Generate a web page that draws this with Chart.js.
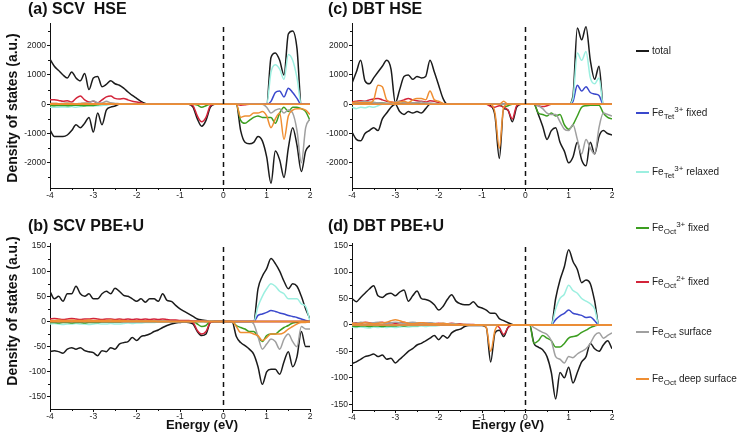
<!DOCTYPE html>
<html>
<head>
<meta charset="utf-8">
<title>Density of states</title>
<script src="https://cdn.jsdelivr.net/npm/chart.js"></script>
<style>
  body { margin: 0; background: #fff; }
  #fig { position: relative; width: 742px; height: 443px; overflow: hidden; font-family: 'Liberation Sans', Arial, sans-serif; color: #111; }
  #fig canvas { position: absolute; }
  .ptitle { position: absolute; font-weight: bold; font-size: 16px; line-height: 18px; white-space: nowrap; }
  .xtitle { position: absolute; width: 100px; text-align: center; font-weight: bold; font-size: 13px; line-height: 16px; white-space: nowrap; }
  .ytitle { position: absolute; width: 200px; text-align: center; font-weight: bold; font-size: 14px; line-height: 16px; transform: rotate(-90deg); white-space: nowrap; }
  .sw { position: absolute; left: 636px; width: 13px; height: 2px; }
  .lt { position: absolute; left: 652px; font-size: 10px; line-height: 12px; white-space: nowrap; color: #222; }
  .lt sub, .lt sup { font-size: 8px; line-height: 0; }
  .lt sub { vertical-align: -3px; }
  .lt sup { vertical-align: 4px; }
  #err { position: absolute; left: 0; top: 0; color: red; font-size: 10px; }
</style>
</head>
<body>
<div id="fig">
  <canvas id="pa" width="320" height="210" style="left:0;top:0"></canvas>
  <canvas id="pc" width="320" height="210" style="left:302px;top:0"></canvas>
  <canvas id="pb" width="320" height="215" style="left:0;top:215px"></canvas>
  <canvas id="pd" width="320" height="215" style="left:302px;top:215px"></canvas>

  <div class="ptitle" style="left:28px;top:0">(a) SCV&nbsp; HSE</div>
  <div class="ptitle" style="left:28px;top:217px">(b) SCV PBE+U</div>
  <div class="ptitle" style="left:328px;top:0">(c) DBT HSE</div>
  <div class="ptitle" style="left:328px;top:217px">(d) DBT PBE+U</div>

  <div class="ytitle" style="left:-88px;top:100px">Density of states (a.u.)</div>
  <div class="ytitle" style="left:-88px;top:303px">Density of states (a.u.)</div>
  <div class="xtitle" style="left:152px;top:417px">Energy (eV)</div>
  <div class="xtitle" style="left:458px;top:417px">Energy (eV)</div>

  <div class="sw" style="top:50px;background:#1b1b1b"></div>
  <div class="lt" style="top:45px">total</div>
  <div class="sw" style="top:112px;background:#3a48cc"></div>
  <div class="lt" style="top:107px">Fe<sub>Tet</sub><sup>3+</sup> fixed</div>
  <div class="sw" style="top:171px;background:#9cefe0"></div>
  <div class="lt" style="top:166px">Fe<sub>Tet</sub><sup>3+</sup> relaxed</div>
  <div class="sw" style="top:227px;background:#3c9e20"></div>
  <div class="lt" style="top:222px">Fe<sub>Oct</sub><sup>3+</sup> fixed</div>
  <div class="sw" style="top:281px;background:#d3243a"></div>
  <div class="lt" style="top:276px">Fe<sub>Oct</sub><sup>2+</sup> fixed</div>
  <div class="sw" style="top:331px;background:#a0a0a0"></div>
  <div class="lt" style="top:326px">Fe<sub>Oct</sub> surface</div>
  <div class="sw" style="top:378px;background:#ef8e32"></div>
  <div class="lt" style="top:373px">Fe<sub>Oct</sub> deep surface</div>
  <div id="err"></div>
</div>
<script>
// Projected density of states, spin up (positive) and spin down (negative)

const energy = [
  -4, -3.9, -3.8, -3.7, -3.6, -3.5, -3.4, -3.3, -3.2, -3.1,
  -3, -2.9, -2.8, -2.7, -2.6, -2.5, -2.4, -2.3, -2.2, -2.1,
  -2, -1.9, -1.8, -1.7, -1.6, -1.5, -1.4, -1.3, -1.2, -1.1,
  -1, -0.9, -0.8, -0.7, -0.6, -0.5, -0.4, -0.3, -0.2, -0.1,
  0, 0.1, 0.2, 0.3, 0.4, 0.5, 0.6, 0.7, 0.8, 0.9,
  1, 1.1, 1.2, 1.3, 1.4, 1.5, 1.6, 1.7, 1.8, 1.9,
  2
];
const xTicks = [-4, -3, -2, -1, 0, 1, 2];
const xMinorTicks = [-3.5, -2.5, -1.5, -0.5, 0.5, 1.5];
const hseTicks = [-2000, -1000, 0, 1000, 2000];
const hseMinorTicks = [-2500, -1500, -500, 500, 1500, 2500];
const pbeTicks = [-150, -100, -50, 0, 50, 100, 150];
const pbeMinorTicks = [-125, -75, -25, 25, 75, 125];

// series order: total, FeTet3+ fixed, FeTet3+ relaxed, FeOct3+ fixed, FeOct2+ fixed, FeOct surface, FeOct deep surface
const seriesColors = ['#1b1b1b', '#3a48cc', '#9cefe0', '#3c9e20', '#d3243a', '#a0a0a0', '#ef8e32'];

// (a) SCV HSE
const aTotalUp = [
  1540, 1300, 1150, 1000, 900, 1100, 900, 800, 1050, 500,
  900, 950, 600, 680, 800, 700, 650, 550, 420, 300,
  200, 100, 30, 0, 0, 0, 0, 0, 0, 0,
  0, 0, 0, 0, 0, 0, 0, 0, 0, 0,
  0, 0, 0, 0, 0, 0, 0, 0, 0, 0,
  0, 1600, 1750, 1500, 1000, 2400, 2500, 1900, 0, 0,
  0];
const aTotalDown = [
  -880, -1100, -1100, -1100, -1050, -900, -700, -800, -650, -450,
  -950, -300, -700, -200, -100, -60, 0, 0, 0, 0,
  0, 0, 0, 0, 0, 0, 0, 0, 0, 0,
  0, 0, 0, -100, -500, -750, -550, -100, 0, 0,
  0, 0, 0, 0, -900, -1300, -1350, -1300, -1100, -1250,
  -1800, -2700, -1600, -1900, -2500, -1500, -800, -1400, -2300, -1600,
  -1400];
const aTetFixedUp = [
  0, 0, 0, 0, 0, 0, 0, 0, 0, 0,
  0, 0, 0, 0, 0, 0, 0, 0, 0, 0,
  0, 0, 0, 0, 0, 0, 0, 0, 0, 0,
  0, 0, 0, 0, 0, 0, 0, 0, 0, 0,
  0, 0, 0, 0, 0, 0, 0, 0, 0, 0,
  0, 100, 400, 450, 250, 550, 400, 200, 0, 0,
  0];
const aTetRelaxedUp = [
  0, 0, 0, 0, 0, 0, 0, 0, 0, 0,
  0, 0, 0, 0, 0, 0, 0, 0, 0, 0,
  0, 0, 0, 0, 0, 0, 0, 0, 0, 0,
  0, 0, 0, 0, 0, 0, 0, 0, 0, 0,
  0, 0, 0, 0, 0, 0, 0, 0, 0, 0,
  0, 1100, 1350, 1200, 850, 1700, 1500, 900, 0, 0,
  0];
const aTetRelaxedDown = [
  -100, -100, -100, -90, -100, -80, -100, -80, -60, -50,
  -60, -50, -40, -30, 0, 0, 0, 0, 0, 0,
  0, 0, 0, 0, 0, 0, 0, 0, 0, 0,
  0, 0, 0, 0, 0, 0, 0, 0, 0, 0,
  0, 0, 0, 0, 0, 0, 0, 0, 0, 0,
  0, 0, 0, 0, 0, 0, 0, 0, 0, 0,
  0];
const aOct3FixedDown = [
  -40, -50, -40, -40, -50, -40, -30, -40, -50, -40,
  -40, -20, 0, 0, 0, 0, 0, 0, 0, 0,
  0, 0, 0, 0, 0, 0, 0, 0, 0, 0,
  0, 0, 0, 0, -30, -100, -50, 0, 0, 0,
  0, 0, 0, 0, -550, -650, -550, -450, -400, -450,
  -450, -450, -650, -300, -100, -250, -100, -100, -150, -250,
  -550];
const aOct2FixedUp = [
  150, 150, 130, 100, 120, 80, 200, 280, 150, 80,
  100, 50, 150, 250, 280, 200, 180, 200, 150, 100,
  80, 50, 0, 0, 0, 0, 0, 0, 0, 0,
  0, 0, 0, 0, 0, 0, 0, 0, 0, 0,
  0, 0, 0, 0, 0, 0, 0, 0, 0, 0,
  0, 0, 0, 0, 0, 0, 0, 0, 0, 0,
  0];
const aOct2FixedDown = [
  0, 0, 0, 0, 0, 0, 0, 0, 0, 0,
  0, 0, 0, 0, 0, 0, 0, 0, 0, 0,
  0, 0, 0, 0, 0, 0, 0, 0, 0, 0,
  0, 0, 0, -50, -400, -600, -450, -50, 0, 0,
  0, 0, 0, 0, -30, -20, 0, 0, 0, 0,
  0, 0, 0, 0, 0, 0, 0, 0, 0, 0,
  0];
const aSurfaceUp = [
  20, 30, 20, 30, 40, 30, 20, 30, 40, 50,
  120, 50, 40, 100, 50, 30, 20, 10, 0, 0,
  0, 0, 0, 0, 0, 0, 0, 0, 0, 0,
  0, 0, 0, 0, 0, 0, 0, 0, 0, 0,
  0, 0, 0, 0, 0, 0, 0, 0, 0, 0,
  0, 0, 0, 0, 0, 0, 0, 0, 0, 0,
  0];
const aSurfaceDown = [
  0, 0, 0, 0, 0, 0, 0, 0, 0, 0,
  0, 0, 0, 0, 0, 0, 0, 0, 0, 0,
  0, 0, 0, 0, 0, 0, 0, 0, 0, 0,
  0, 0, 0, 0, 0, 0, 0, 0, 0, 0,
  0, 0, 0, 0, 0, 0, 0, 0, 0, 0,
  -100, -300, -200, -150, -300, -200, -300, -900, -2000, -800,
  -500];
const aDeepUp = [
  20, 30, 20, 20, 30, 20, 10, 20, 30, 20,
  20, 10, 20, 30, 20, 10, 10, 0, 0, 0,
  0, 0, 0, 0, 0, 0, 0, 0, 0, 0,
  0, 0, 0, 0, 0, 0, 0, 0, 0, 0,
  0, 0, 0, 0, 0, 0, 0, 0, 0, 0,
  0, 0, 0, 0, 0, 0, 0, 0, 0, 0,
  0];
const aDeepDown = [
  0, 0, 0, 0, 0, 0, 0, 0, 0, 0,
  0, 0, 0, 0, 0, 0, 0, 0, 0, 0,
  0, 0, 0, 0, 0, 0, 0, 0, 0, 0,
  0, 0, 0, 0, 0, 0, 0, 0, 0, 0,
  0, 0, 0, 0, -450, -400, -400, -300, -300, -250,
  -400, -800, -500, -300, -1200, -400, -200, -150, -150, -200,
  -350];

// (c) DBT HSE
const cTotalUp = [
  720, 1100, 1500, 800, 700, 900, 1100, 1300, 1500, 1200,
  50, 500, 950, 1000, 850, 950, 900, 950, 1500, 1100,
  650, 200, 0, 0, 0, 0, 0, 0, 0, 0,
  0, 0, 0, 0, 0, 0, 0, 0, 0, 0,
  0, 0, 0, 0, 0, 0, 0, 0, 0, 0,
  0, 300, 2600, 2200, 2650, 1500, 850, 1300, 0, 0,
  0];
const cTotalDown = [
  -950, -1200, -1250, -1000, -900, -800, -900, -500, -300, -100,
  0, -250, -350, -250, -300, -250, -300, -150, 0, 0,
  0, 0, 0, 0, 0, 0, 0, 0, 0, 0,
  0, 0, -50, -400, -1850, -150, -200, -600, -100, 0,
  0, 0, 0, -350, -750, -1200, -900, -800, -1300, -1600,
  -2000, -1800, -1300, -1900, -2100, -1300, -1700, -1100, -900, -1000,
  -1050];
const cTetFixedUp = [
  0, 0, 0, 0, 0, 0, 0, 0, 0, 0,
  0, 0, 0, 0, 0, 0, 0, 0, 0, 0,
  0, 0, 0, 0, 0, 0, 0, 0, 0, 0,
  0, 0, 0, 0, 0, 0, 0, 0, 0, 0,
  0, 0, 0, 0, 0, 0, 0, 0, 0, 0,
  0, 100, 650, 450, 600, 400, 350, 300, 0, 0,
  0];
const cTetRelaxedUp = [
  0, 0, 0, 0, 0, 0, 0, 0, 0, 0,
  0, 0, 0, 0, 0, 0, 0, 0, 0, 0,
  0, 0, 0, 0, 0, 0, 0, 0, 0, 0,
  0, 0, 0, 0, 0, 0, 0, 0, 0, 0,
  0, 0, 0, 0, 0, 0, 0, 0, 0, 0,
  0, 200, 1750, 1500, 1800, 900, 700, 900, 0, 0,
  0];
const cTetRelaxedDown = [
  -100, -150, -100, -120, -80, -100, -50, 0, 0, 0,
  0, 0, 0, 0, 0, 0, 0, 0, 0, 0,
  0, 0, 0, 0, 0, 0, 0, 0, 0, 0,
  0, 0, 0, 0, 0, 0, 0, 0, 0, 0,
  0, 0, 0, 0, 0, 0, 0, 0, 0, 0,
  0, 0, 0, 0, 0, 0, 0, 0, 0, 0,
  0];
const cOct3FixedUp = [
  30, 60, 50, 40, 50, 60, 50, 40, 30, 20,
  10, 30, 40, 50, 40, 30, 0, 0, 0, 0,
  0, 0, 0, 0, 0, 0, 0, 0, 0, 0,
  0, 0, 0, 0, 0, 0, 0, 0, 0, 0,
  0, 0, 0, 0, 0, 0, 0, 0, 0, 0,
  0, 0, 0, 0, 0, 0, 0, 0, 0, 0,
  0];
const cOct3FixedDown = [
  0, 0, 0, 0, 0, 0, 0, 0, 0, 0,
  0, 0, 0, 0, 0, 0, 0, 0, 0, 0,
  0, 0, 0, 0, 0, 0, 0, 0, 0, 0,
  0, 0, 0, 0, 0, -100, -50, 0, 0, 0,
  0, 0, 0, -300, -350, -400, -300, -400, -350, -700,
  -850, -700, -400, -100, -50, -30, -30, -30, -300, -450,
  -500];
const cOct2FixedUp = [
  80, 100, 120, 100, 150, 180, 200, 150, 100, 80,
  50, 100, 150, 200, 150, 120, 100, 80, 120, 100,
  50, 20, 0, 0, 0, 0, 0, 0, 0, 0,
  0, 0, 0, 0, 0, 0, 0, 0, 0, 0,
  0, 0, 0, 0, 0, 0, 0, 0, 0, 0,
  0, 0, 0, 0, 0, 0, 0, 0, 0, 0,
  0];
const cOct2FixedDown = [
  0, 0, 0, 0, 0, 0, 0, 0, 0, 0,
  0, 0, 0, 0, 0, 0, 0, 0, 0, 0,
  0, 0, 0, 0, 0, 0, 0, 0, 0, 0,
  0, 0, -80, -100, -50, -100, -200, -500, -50, 0,
  0, 0, 0, -50, -80, -50, 0, 0, 0, 0,
  0, 0, 0, 0, 0, 0, 0, 0, 0, 0,
  0];
const cSurfaceUp = [
  50, 60, 80, 100, 80, 60, 50, 40, 30, 20,
  80, 100, 60, 50, 50, 60, 80, 50, 40, 30,
  20, 0, 0, 0, 0, 0, 0, 0, 0, 0,
  0, 0, 0, 0, 0, 0, 0, 0, 0, 0,
  0, 0, 0, 0, 0, 0, 0, 0, 0, 0,
  0, 0, 0, 0, 0, 0, 0, 0, 0, 0,
  0];
const cSurfaceDown = [
  0, 0, 0, 0, 0, 0, 0, 0, 0, 0,
  0, 0, 0, 0, 0, 0, 0, 0, 0, 0,
  0, 0, 0, 0, 0, 0, 0, 0, 0, 0,
  0, 0, 0, 0, 0, 0, 0, 0, 0, 0,
  0, 0, 0, -50, -150, -300, -350, -350, -600, -850,
  -900, -700, -1200, -1700, -1200, -1500, -1700, -800, -300, -350,
  -400];
const cDeepUp = [
  50, 80, 50, 50, 50, 150, 650, 600, 150, 80,
  50, 80, 100, 60, 150, 200, 200, 150, 450, 150,
  100, 30, 0, 0, 0, 0, 0, 0, 0, 0,
  0, 0, 0, 0, 0, 100, 0, 0, 0, 0,
  0, 0, 0, 0, 0, 0, 0, 0, 0, 0,
  0, 0, 0, 0, 0, 0, 0, 0, 0, 0,
  0];
const cDeepDown = [
  0, 0, 0, 0, 0, 0, 0, 0, 0, 0,
  0, 0, 0, 0, 0, 0, 0, 0, 0, 0,
  0, 0, 0, 0, 0, 0, 0, 0, 0, 0,
  0, 0, 0, -300, -1500, -100, 0, 0, 0, 0,
  0, 0, 0, 0, 0, 0, 0, 0, 0, 0,
  0, 0, 0, 0, 0, 0, 0, 0, 0, 0,
  0];

// (b) SCV PBE+U
const bTotalUp = [
  60, 45, 50, 40, 55, 55, 70, 55, 50, 55,
  45, 45, 55, 60, 55, 66, 60, 52, 50, 45,
  40, 45, 38, 45, 45, 40, 55, 42, 40, 32,
  25, 20, 15, 10, 5, 3, 2, 0, 0, 0,
  0, 0, 0, 0, 0, 0, 0, 0, 65, 90,
  105, 125, 115, 100, 80, 65, 75, 70, 50, 25,
  5];
const bTotalDown = [
  -60, -58, -60, -63, -55, -52, -55, -52, -58, -60,
  -62, -68, -58, -60, -52, -55, -45, -42, -40, -32,
  -38, -30, -28, -25, -20, -17, -12, -8, -5, -3,
  -2, -1, -2, -5, -20, -28, -25, -2, 0, 0,
  0, 0, 0, -30, -42, -48, -55, -65, -90, -125,
  -100, -95, -95, -105, -80, -60, -90, -70, -20, -50,
  -50];
const bTetFixedUp = [
  0, 0, 0, 0, 0, 0, 0, 0, 0, 0,
  0, 0, 0, 0, 0, 0, 0, 0, 0, 0,
  0, 0, 0, 0, 0, 0, 0, 0, 0, 0,
  0, 0, 0, 0, 0, 0, 0, 0, 0, 0,
  0, 0, 0, 0, 0, 0, 0, 0, 12, 15,
  18, 22, 20, 17, 15, 12, 10, 8, 5, 2,
  0];
const bTetRelaxedUp = [
  0, 0, 0, 0, 0, 0, 0, 0, 0, 0,
  0, 0, 0, 0, 0, 0, 0, 0, 0, 0,
  0, 0, 0, 0, 0, 0, 0, 0, 0, 0,
  0, 0, 0, 0, 0, 0, 0, 0, 0, 0,
  0, 0, 0, 0, 0, 0, 0, 0, 30, 50,
  65, 75, 70, 60, 55, 45, 45, 45, 35, 30,
  0];
const bTetRelaxedDown = [
  -5, -4, -5, -6, -5, -5, -4, -5, -5, -6,
  -5, -4, -5, -5, -4, -5, -5, -4, -3, -4,
  -3, -3, -2, -2, -2, -1, -1, -1, 0, 0,
  0, 0, 0, 0, 0, 0, 0, 0, 0, 0,
  0, 0, 0, 0, 0, 0, 0, 0, 0, 0,
  0, 0, 0, 0, 0, 0, 0, 0, 0, 0,
  0];
const bOct3FixedDown = [
  -2, -2, -3, -2, -2, -3, -2, -2, -3, -2,
  -2, -2, -1, -1, -1, -1, -1, 0, 0, 0,
  0, 0, 0, 0, 0, 0, 0, 0, 0, 0,
  0, 0, 0, 0, -5, -10, -8, 0, 0, 0,
  0, 0, 0, -8, -12, -15, -20, -20, -30, -40,
  -28, -25, -25, -18, -12, -8, -3, -2, 0, 0,
  0];
const bOct2FixedUp = [
  5, 6, 5, 4, 5, 6, 5, 4, 5, 5,
  6, 5, 4, 5, 5, 4, 5, 4, 5, 4,
  5, 4, 5, 4, 5, 4, 5, 4, 3, 3,
  2, 2, 2, 1, 1, 1, 0, 0, 0, 0,
  0, 0, 0, 0, 0, 0, 0, 0, 0, 0,
  0, 0, 0, 0, 0, 0, 0, 0, 0, 0,
  0];
const bOct2FixedDown = [
  0, 0, 0, 0, 0, 0, 0, 0, 0, 0,
  0, 0, 0, 0, 0, 0, 0, 0, 0, 0,
  0, 0, 0, 0, 0, 0, 0, 0, 0, 0,
  0, 0, 0, -2, -18, -25, -20, -2, 0, 0,
  0, 0, 0, 0, 0, 0, 0, 0, 0, 0,
  0, 0, 0, 0, 0, 0, 0, 0, 0, 0,
  0];
const bSurfaceDown = [
  0, 0, 0, 0, 0, 0, 0, 0, 0, 0,
  0, 0, 0, 0, 0, 0, 0, 0, 0, 0,
  0, 0, 0, 0, 0, 0, 0, 0, 0, 0,
  0, 0, 0, 0, 0, 0, 0, 0, 0, 0,
  0, 0, 0, 0, 0, 0, 0, -5, -30, -55,
  -45, -35, -40, -55, -35, -25, -40, -50, -10, -15,
  -15];
const bDeepUp = [
  2, 2, 3, 2, 2, 3, 2, 2, 2, 3,
  2, 2, 2, 2, 3, 2, 2, 2, 1, 1,
  1, 1, 1, 1, 1, 0, 0, 0, 0, 0,
  0, 0, 0, 0, 0, 0, 0, 0, 0, 0,
  0, 0, 0, 0, 0, 0, 0, 0, 0, 0,
  0, 0, 0, 0, 0, 0, 0, 0, 0, 0,
  0];
const bDeepDown = [
  0, 0, 0, 0, 0, 0, 0, 0, 0, 0,
  0, 0, 0, 0, 0, 0, 0, 0, 0, 0,
  0, 0, 0, 0, 0, 0, 0, 0, 0, 0,
  0, 0, 0, 0, 0, 0, 0, 0, 0, 0,
  0, 0, 0, -10, -22, -22, -22, -25, -28, -38,
  -32, -25, -25, -25, -22, -15, -10, -5, -2, -2,
  0];

// (d) DBT PBE+U
const dTotalUp = [
  50, 44, 52, 60, 68, 74, 55, 52, 58, 60,
  55, 62, 66, 45, 55, 64, 50, 48, 45, 38,
  28, 35, 48, 57, 45, 40, 38, 38, 44, 35,
  32, 28, 22, 22, 12, 8, 4, 1, 0, 0,
  0, 0, 0, 0, 0, 0, 0, 50, 85, 110,
  142, 120, 105, 80, 85, 78, 45, 0, 0, 0,
  0];
const dTotalDown = [
  -73, -70, -65, -60, -58, -55, -60, -57, -65, -63,
  -72, -65, -58, -50, -45, -38, -35, -30, -25, -20,
  -28, -20, -25, -15, -10, -8, -3, -1, -1, -1,
  -1, -5, -70, -15, -10, -22, -5, 0, 0, 0,
  0, 0, -35, -42, -47, -60, -90, -140, -90, -100,
  -80, -110, -90, -70, -60, -35, -45, -50, -38, -30,
  -45];
const dTetFixedUp = [
  0, 0, 0, 0, 0, 0, 0, 0, 0, 0,
  0, 0, 0, 0, 0, 0, 0, 0, 0, 0,
  0, 0, 0, 0, 0, 0, 0, 0, 0, 0,
  0, 0, 0, 0, 0, 0, 0, 0, 0, 0,
  0, 0, 0, 0, 0, 0, 0, 10, 17, 22,
  28, 22, 20, 18, 14, 15, 8, 0, 0, 0,
  0];
const dTetRelaxedUp = [
  0, 0, 0, 0, 0, 0, 0, 0, 0, 0,
  0, 0, 0, 0, 0, 0, 0, 0, 0, 0,
  0, 0, 0, 0, 0, 0, 0, 0, 0, 0,
  0, 0, 0, 0, 0, 0, 0, 0, 0, 0,
  0, 0, 0, 0, 0, 0, 0, 30, 50, 58,
  75, 65, 60, 50, 45, 40, 30, 0, 0, 0,
  0];
const dTetRelaxedDown = [
  -4, -5, -4, -5, -6, -4, -5, -4, -5, -4,
  -5, -4, -3, -4, -3, -3, -2, -3, -2, -2,
  -1, 0, 0, 0, 0, 0, 0, 0, 0, 0,
  0, 0, 0, 0, 0, 0, 0, 0, 0, 0,
  0, 0, 0, 0, 0, 0, 0, 0, 0, 0,
  0, 0, 0, 0, 0, 0, 0, 0, 0, 0,
  0];
const dOct3FixedDown = [
  -2, -3, -2, -2, -3, -2, -2, -3, -2, -2,
  -2, -1, -2, -1, -1, -1, 0, 0, 0, 0,
  0, 0, 0, 0, 0, 0, 0, 0, 0, 0,
  0, 0, 0, 0, 0, 0, 0, 0, 0, 0,
  0, 0, -35, -30, -20, -25, -30, -42, -42, -35,
  -25, -22, -20, -14, -10, -5, -2, 0, 0, 0,
  0];
const dOct2FixedUp = [
  3, 4, 3, 5, 4, 3, 4, 5, 3, 4,
  3, 4, 5, 3, 4, 3, 4, 3, 3, 2,
  3, 2, 2, 3, 2, 2, 1, 1, 1, 0,
  0, 0, 0, 0, 0, 0, 0, 0, 0, 0,
  0, 0, 0, 0, 0, 0, 0, 0, 0, 0,
  0, 0, 0, 0, 0, 0, 0, 0, 0, 0,
  0];
const dOct2FixedDown = [
  0, 0, 0, 0, 0, 0, 0, 0, 0, 0,
  0, 0, 0, 0, 0, 0, 0, 0, 0, 0,
  0, 0, 0, 0, 0, 0, 0, 0, 0, 0,
  0, 0, 0, 0, -5, -18, -5, 0, 0, 0,
  0, 0, 0, 0, 0, 0, 0, 0, 0, 0,
  0, 0, 0, 0, 0, 0, 0, 0, 0, 0,
  0];
const dSurfaceUp = [
  4, 3, 5, 4, 3, 4, 5, 4, 3, 4,
  5, 4, 3, 4, 5, 4, 3, 3, 4, 3,
  2, 3, 2, 2, 2, 1, 1, 1, 0, 0,
  0, 0, 0, 0, 0, 0, 0, 0, 0, 0,
  0, 0, 0, 0, 0, 0, 0, 0, 0, 0,
  0, 0, 0, 0, 0, 0, 0, 0, 0, 0,
  0];
const dSurfaceDown = [
  0, 0, 0, 0, 0, 0, 0, 0, 0, 0,
  0, 0, 0, 0, 0, 0, 0, 0, 0, 0,
  0, 0, 0, 0, 0, 0, 0, 0, 0, 0,
  0, 0, 0, 0, 0, 0, 0, 0, 0, 0,
  0, 0, -5, -10, -14, -18, -30, -60, -65, -72,
  -60, -62, -55, -50, -45, -35, -20, -15, -25, -20,
  -15];
const dDeepUp = [
  3, 2, 3, 4, 3, 2, 3, 4, 5, 8,
  10, 8, 5, 3, 2, 3, 4, 3, 2, 2,
  2, 3, 2, 1, 1, 1, 1, 0, 0, 0,
  0, 0, 0, 0, 0, 0, 0, 0, 0, 0,
  0, 0, 0, 0, 0, 0, 0, 0, 0, 0,
  0, 0, 0, 0, 0, 0, 0, 0, 0, 0,
  0];
const dDeepDown = [
  0, 0, 0, 0, 0, 0, 0, 0, 0, 0,
  0, 0, 0, 0, 0, 0, 0, 0, 0, 0,
  0, 0, 0, 0, 0, 0, 0, 0, 0, 0,
  0, -5, -50, -10, 0, 0, 0, 0, 0, 0,
  0, 0, 0, 0, 0, 0, 0, 0, 0, 0,
  0, 0, 0, 0, 0, 0, 0, 0, 0, 0,
  0];

const FONT = "'Liberation Sans', Arial, sans-serif";

// dashed line at the Fermi level
const zeroLine = {
  id: 'zeroLine',
  afterDatasetsDraw(chart) {
    const { ctx, chartArea, scales } = chart;
    const x = Math.round(scales.x.getPixelForValue(0)) + 0.5;
    ctx.save();
    ctx.strokeStyle = '#111';
    ctx.lineWidth = 1.5;
    ctx.setLineDash([5, 4]);
    ctx.beginPath();
    ctx.moveTo(x, chartArea.top + 4);
    ctx.lineTo(x, chartArea.bottom);
    ctx.stroke();
    ctx.restore();
  }
};

// short ticks between the labelled ones
const minorTicks = {
  id: 'minorTicks',
  afterDraw(chart, args, opts) {
    const { ctx, chartArea, scales } = chart;
    ctx.save();
    ctx.strokeStyle = '#111';
    ctx.lineWidth = 1;
    ctx.beginPath();
    (opts.x || []).forEach(v => {
      const px = Math.round(scales.x.getPixelForValue(v)) + 0.5;
      ctx.moveTo(px, chartArea.bottom);
      ctx.lineTo(px, chartArea.bottom + 2);
    });
    (opts.y || []).forEach(v => {
      const py = Math.round(scales.y.getPixelForValue(v)) + 0.5;
      ctx.moveTo(chartArea.left, py);
      ctx.lineTo(chartArea.left - 2, py);
    });
    ctx.stroke();
    ctx.restore();
  }
};

function makePanel(id, curves, yMin, yMax, yTicks, yMinor, padTop, xHeight) {
  const datasets = curves.map(([s, values]) => ({
    data: values.map((v, i) => ({ x: energy[i], y: v })),
    borderColor: seriesColors[s],
    borderWidth: 1.5,
    pointRadius: 0,
    fill: false,
    cubicInterpolationMode: 'monotone',
    order: seriesColors.length - s
  }));
  const tickFont = { size: 8.5, family: FONT };
  return new Chart(document.getElementById(id), {
    type: 'line',
    data: { datasets },
    options: {
      responsive: false,
      animation: false,
      events: [],
      layout: { padding: { top: padTop, right: 10, left: 0, bottom: 0 } },
      plugins: {
        legend: { display: false },
        tooltip: { enabled: false },
        minorTicks: { x: xMinorTicks, y: yMinor }
      },
      scales: {
        x: {
          type: 'linear', min: -4, max: 2,
          afterBuildTicks: s => { s.ticks = xTicks.map(v => ({ value: v })); },
          afterFit: s => { s.height = xHeight; },
          grid: { drawOnChartArea: false, drawTicks: true, tickLength: 3, color: '#111' },
          border: { color: '#111', width: 1 },
          ticks: { autoSkip: false, maxRotation: 0, padding: 0, color: '#222', font: tickFont, callback: v => String(v) }
        },
        y: {
          type: 'linear', min: yMin, max: yMax,
          afterBuildTicks: s => { s.ticks = yTicks.map(v => ({ value: v })); },
          afterFit: s => { s.width = 50; },
          grid: { drawOnChartArea: false, drawTicks: true, tickLength: 3, color: '#111' },
          border: { color: '#111', width: 1 },
          ticks: { autoSkip: false, padding: 1, color: '#222', font: tickFont, callback: v => String(v) }
        }
      }
    },
    plugins: [zeroLine, minorTicks]
  });
}

const arrays = { aTotalUp, aTotalDown, aTetFixedUp, aTetRelaxedUp, aTetRelaxedDown, aOct3FixedDown, aOct2FixedUp, aOct2FixedDown, aSurfaceUp, aSurfaceDown, aDeepUp, aDeepDown,
  cTotalUp, cTotalDown, cTetFixedUp, cTetRelaxedUp, cTetRelaxedDown, cOct3FixedUp, cOct3FixedDown, cOct2FixedUp, cOct2FixedDown, cSurfaceUp, cSurfaceDown, cDeepUp, cDeepDown,
  bTotalUp, bTotalDown, bTetFixedUp, bTetRelaxedUp, bTetRelaxedDown, bOct3FixedDown, bOct2FixedUp, bOct2FixedDown, bSurfaceDown, bDeepUp, bDeepDown,
  dTotalUp, dTotalDown, dTetFixedUp, dTetRelaxedUp, dTetRelaxedDown, dOct3FixedDown, dOct2FixedUp, dOct2FixedDown, dSurfaceUp, dSurfaceDown, dDeepUp, dDeepDown };
const bad = Object.keys(arrays).filter(k => arrays[k].length !== energy.length);
if (bad.length) document.getElementById('err').textContent = 'length mismatch: ' + bad.join(' ');

makePanel('pa', [
  [0, aTotalUp], [0, aTotalDown], [1, aTetFixedUp], [2, aTetRelaxedUp], [2, aTetRelaxedDown],
  [3, aOct3FixedDown], [4, aOct2FixedUp], [4, aOct2FixedDown], [5, aSurfaceUp], [5, aSurfaceDown],
  [6, aDeepUp], [6, aDeepDown]
], -2860, 2775, hseTicks, hseMinorTicks, 23, 22);

makePanel('pc', [
  [0, cTotalUp], [0, cTotalDown], [1, cTetFixedUp], [2, cTetRelaxedUp], [2, cTetRelaxedDown],
  [3, cOct3FixedUp], [3, cOct3FixedDown], [4, cOct2FixedUp], [4, cOct2FixedDown], [5, cSurfaceUp],
  [5, cSurfaceDown], [6, cDeepUp], [6, cDeepDown]
], -2860, 2775, hseTicks, hseMinorTicks, 23, 22);

makePanel('pb', [
  [0, bTotalUp], [0, bTotalDown], [1, bTetFixedUp], [2, bTetRelaxedUp], [2, bTetRelaxedDown],
  [3, bOct3FixedDown], [4, bOct2FixedUp], [4, bOct2FixedDown], [5, bSurfaceDown],
  [6, bDeepUp], [6, bDeepDown]
], -174, 156, pbeTicks, pbeMinorTicks, 28, 21);

makePanel('pd', [
  [0, dTotalUp], [0, dTotalDown], [1, dTetFixedUp], [2, dTetRelaxedUp], [2, dTetRelaxedDown],
  [3, dOct3FixedDown], [4, dOct2FixedUp], [4, dOct2FixedDown], [5, dSurfaceUp], [5, dSurfaceDown],
  [6, dDeepUp], [6, dDeepDown]
], -161, 155, pbeTicks, pbeMinorTicks, 28, 20);
</script>
</body>
</html>
